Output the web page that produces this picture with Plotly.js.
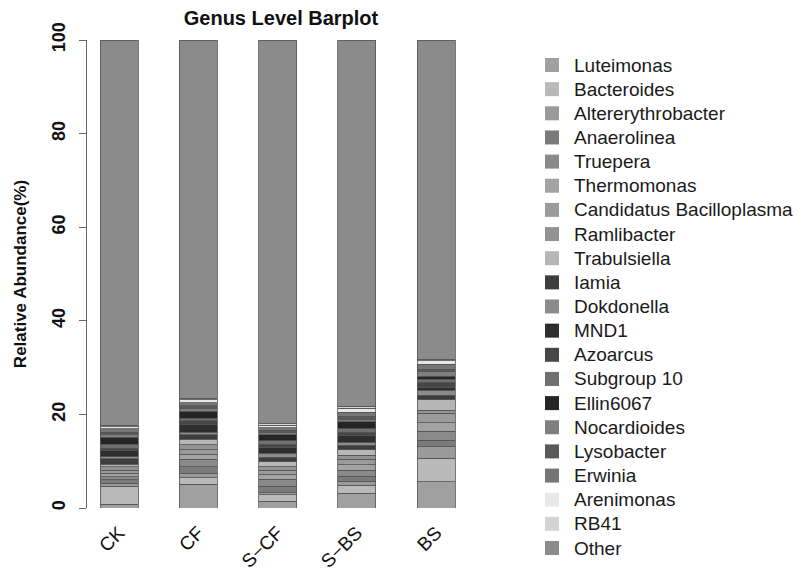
<!DOCTYPE html>
<html>
<head>
<meta charset="utf-8">
<script src="https://cdn.plot.ly/plotly-3.0.1.min.js"></script>
<style>
  html, body { margin: 0; padding: 0; background: #fff; }
  #chart { width: 798px; height: 572px; }
</style>
</head>
<body>
<div id="chart"></div>
<script>
// Samples along the x axis
const samples = ['CK', 'CF', 'S\u2212CF', 'S\u2212BS', 'BS'];

// Genera, stacked from the bottom of each bar upwards
const genera = [
  'Luteimonas', 'Bacteroides', 'Altererythrobacter', 'Anaerolinea', 'Truepera',
  'Thermomonas', 'Candidatus Bacilloplasma', 'Ramlibacter', 'Trabulsiella', 'Iamia',
  'Dokdonella', 'MND1', 'Azoarcus', 'Subgroup 10', 'Ellin6067',
  'Nocardioides', 'Lysobacter', 'Erwinia', 'Arenimonas', 'RB41', 'Other'
];

// Fill shade for each genus (same order as genera)
const shades = [
  '#a0a0a0', '#b9b9b9', '#9a9a9a', '#7a7a7a', '#8a8a8a',
  '#a3a3a3', '#9b9b9b', '#939393', '#b6b6b6', '#3d3d3d',
  '#8c8c8c', '#2e2e2e', '#474747', '#707070', '#252525',
  '#7e7e7e', '#5a5a5a', '#767676', '#e8e8e8', '#d4d4d4', '#8b8b8b'
];

// Relative abundance (%) per sample, in genera order
const ck  = [0.8, 3.8, 0.7, 0.7, 0.7, 0.7, 0.7, 0.7, 0.5, 1.2, 0.4, 1.3, 0.6, 0.8, 1.5, 0.5, 0.6, 0.7, 0.5, 0.3, 82.3];
const cf  = [5.1, 1.4, 0.8, 1.5, 1.6, 1.1, 1.0, 1.0, 1.2, 0.9, 0.6, 1.6, 0.8, 0.6, 1.5, 0.5, 0.6, 0.7, 0.6, 0.4, 76.5];
const scf = [1.4, 1.4, 0.5, 1.3, 1.5, 1.0, 1.0, 0.7, 1.1, 0.9, 0.9, 1.2, 0.7, 0.8, 1.2, 0.5, 0.5, 0.6, 0.5, 0.3, 82.0];
const sbs = [3.1, 1.8, 0.7, 1.2, 1.3, 1.1, 1.2, 0.9, 1.1, 1.0, 0.6, 1.4, 0.8, 0.7, 1.5, 0.6, 0.6, 0.9, 0.8, 0.4, 78.3];
const bs  = [5.6, 5.0, 2.5, 1.4, 1.9, 1.8, 2.0, 0.7, 2.2, 1.0, 1.1, 0.5, 1.2, 0.6, 0.7, 0.9, 0.5, 1.1, 0.8, 0.3, 68.2];

const bySample = [ck, cf, scf, sbs, bs];
const FONT = 'Liberation Sans, Arial, Helvetica, sans-serif';

const W = 798, H = 572;
const M = { l: 87, r: 323, t: 40, b: 64 };
const plotW = W - M.l - M.r, plotH = H - M.t - M.b;
const px2x = px => (px - M.l) / plotW;
const py2y = py => (H - M.b - py) / plotH;

const traces = genera.map((g, i) => ({
  type: 'bar',
  name: g,
  x: samples,
  y: bySample.map(s => s[i]),
  width: 0.48,
  marker: { color: shades[i], line: { color: '#555555', width: 0.8 } },
  showlegend: false,
  hoverinfo: 'x+y+name'
}));

// Key on the right: one swatch and label per genus
const shapes = [];
const annotations = [];
genera.forEach((g, i) => {
  const cy = 65 + 24.15 * i;
  shapes.push({
    type: 'rect', xref: 'paper', yref: 'paper',
    x0: px2x(545), x1: px2x(559), y0: py2y(cy + 7), y1: py2y(cy - 7),
    fillcolor: shades[i], line: { width: 0 }
  });
  annotations.push({
    xref: 'paper', yref: 'paper', x: px2x(572), y: py2y(cy),
    xanchor: 'left', yanchor: 'middle', showarrow: false,
    text: g, font: { family: FONT, size: 19, color: '#1a1a1a' }
  });
});

const layout = {
  width: W, height: H,
  margin: M,
  paper_bgcolor: '#ffffff', plot_bgcolor: '#ffffff',
  barmode: 'stack',
  title: {
    text: '<b>Genus Level Barplot</b>',
    font: { family: FONT, size: 20, color: '#111' },
    xref: 'paper', x: 0.5, xanchor: 'center',
    yref: 'container', y: 1 - 18 / H, yanchor: 'middle'
  },
  xaxis: {
    type: 'category',
    range: [-0.404, 4.49],
    showline: false, showgrid: false, zeroline: false, ticks: '',
    tickangle: -45,
    ticklabelstandoff: 9,
    tickfont: { family: FONT, size: 19, color: '#111' }
  },
  yaxis: {
    range: [0, 100],
    tickvals: [0, 20, 40, 60, 80, 100],
    ticktext: ['<b>0</b>', '<b>20</b>', '<b>40</b>', '<b>60</b>', '<b>80</b>', '<b>100</b>'],
    showgrid: false, zeroline: false,
    showline: true, linecolor: '#666', linewidth: 1,
    ticks: 'outside', ticklen: 7, tickcolor: '#666', tickwidth: 1,
    tickangle: -90,
    ticklabelstandoff: 7,
    tickfont: { family: FONT, size: 18, color: '#111' },
    title: {
      text: '<b>Relative Abundance(%)</b>',
      font: { family: FONT, size: 17, color: '#111' },
      standoff: 17
    }
  },
  shapes: shapes,
  annotations: annotations
};

Plotly.newPlot('chart', traces, layout, { displayModeBar: false, staticPlot: true });
</script>
</body>
</html>
